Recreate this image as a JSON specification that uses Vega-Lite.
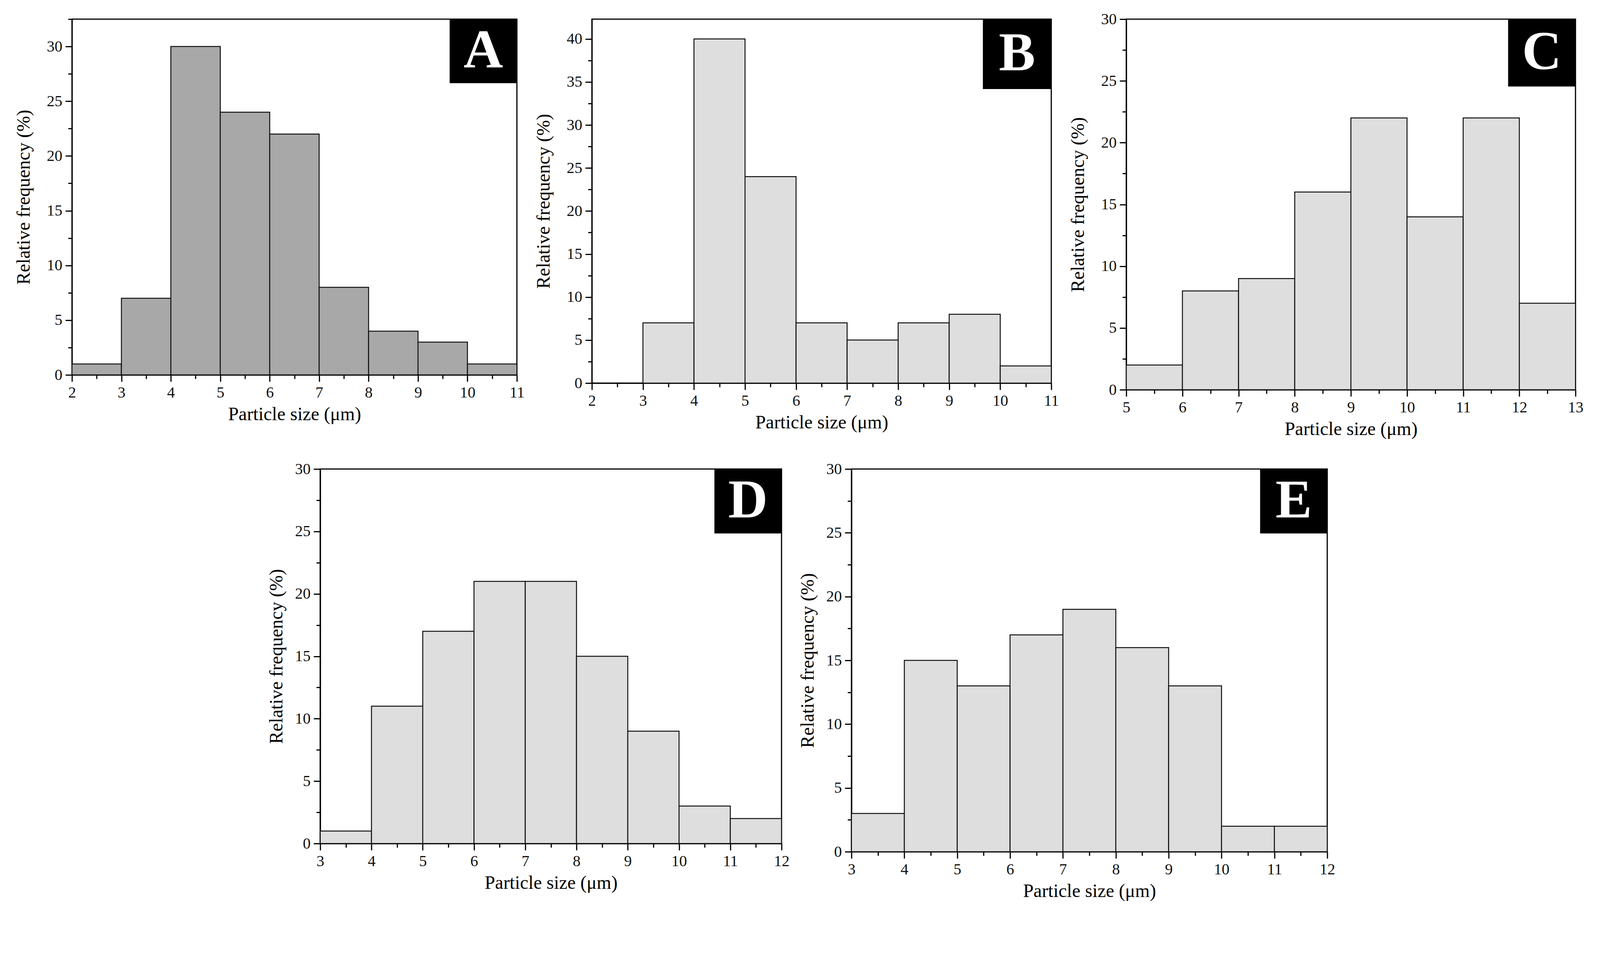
{
  "$schema": "https://vega.github.io/schema/vega-lite/v6.json",
  "background": "white",
  "padding": {"left": 35, "top": 27, "right": 24, "bottom": 47},
  "datasets": {
    "A": [{"start":2,"end":3,"freq":1},{"start":3,"end":4,"freq":7},{"start":4,"end":5,"freq":30},{"start":5,"end":6,"freq":24},{"start":6,"end":7,"freq":22},{"start":7,"end":8,"freq":8},{"start":8,"end":9,"freq":4},{"start":9,"end":10,"freq":3},{"start":10,"end":11,"freq":1}],
    "B": [{"start":3,"end":4,"freq":7},{"start":4,"end":5,"freq":40},{"start":5,"end":6,"freq":24},{"start":6,"end":7,"freq":7},{"start":7,"end":8,"freq":5},{"start":8,"end":9,"freq":7},{"start":9,"end":10,"freq":8},{"start":10,"end":11,"freq":2}],
    "C": [{"start":5,"end":6,"freq":2},{"start":6,"end":7,"freq":8},{"start":7,"end":8,"freq":9},{"start":8,"end":9,"freq":16},{"start":9,"end":10,"freq":22},{"start":10,"end":11,"freq":14},{"start":11,"end":12,"freq":22},{"start":12,"end":13,"freq":7}],
    "D": [{"start":3,"end":4,"freq":1},{"start":4,"end":5,"freq":11},{"start":5,"end":6,"freq":17},{"start":6,"end":7,"freq":21},{"start":7,"end":8,"freq":21},{"start":8,"end":9,"freq":15},{"start":9,"end":10,"freq":9},{"start":10,"end":11,"freq":3},{"start":11,"end":12,"freq":2}],
    "E": [{"start":3,"end":4,"freq":3},{"start":4,"end":5,"freq":15},{"start":5,"end":6,"freq":13},{"start":6,"end":7,"freq":17},{"start":7,"end":8,"freq":19},{"start":8,"end":9,"freq":16},{"start":9,"end":10,"freq":13},{"start":10,"end":11,"freq":2},{"start":11,"end":12,"freq":2}]
  },
  "config": {
    "font": "Liberation Serif",
    "view": {"stroke": "black", "strokeWidth": 3},
    "axis": {"domainColor": "black", "domainWidth": 3, "tickColor": "black", "tickWidth": 3, "labelFont": "Liberation Serif", "labelFontSize": 40, "labelColor": "#111", "titleFont": "Liberation Serif", "titleFontSize": 48, "titleFontWeight": "normal", "titleColor": "black", "grid": false, "labelOverlap": false, "labelFlush": false},
    "axisX": {"labelPadding": 8, "titlePadding": 12},
    "axisY": {"labelPadding": 8}
  },
  "spacing": 54,
  "center": true,
  "vconcat": [
    {
      "spacing": 22,
      "hconcat": [
        {
          "width": 1139, "height": 911,
          "layer": [
            {"data": {"name": "A"}, "mark": {"type": "rect", "fill": "#a8a8a8", "stroke": "#111", "strokeWidth": 2.5},
             "encoding": {
               "x": {"field": "start", "type": "quantitative", "scale": {"domain": [2, 11], "nice": false, "zero": false},
                     "axis": {"title": "Particle size (μm)", "values": [2,2.5,3,3.5,4,4.5,5,5.5,6,6.5,7,7.5,8,8.5,9,9.5,10,10.5,11], "labelExpr": "datum.value % 1 === 0 ? format(datum.value, 'd') : ''", "tickSize": {"condition": {"test": "datum.value % 1 === 0", "value": 17}, "value": 10}}},
               "x2": {"field": "end"},
               "y": {"field": "freq", "type": "quantitative", "scale": {"domain": [0, 32.5], "nice": false},
                     "axis": {"title": "Relative frequency (%)", "titlePadding": 34, "values": [0,2.5,5,7.5,10,12.5,15,17.5,20,22.5,25,27.5,30,32.5], "labelExpr": "datum.value % 5 === 0 ? format(datum.value, 'd') : ''", "tickSize": {"condition": {"test": "datum.value % 5 === 0", "value": 17}, "value": 10}}},
               "y2": {"datum": 0}
             }},
            {"data": {"values": [{"label": "A"}]}, "mark": {"type": "rect", "fill": "black"},
             "encoding": {"x": {"datum": 9.64, "type": "quantitative"}, "x2": {"datum": 11}, "y": {"datum": 32.5, "type": "quantitative"}, "y2": {"datum": 26.65}}},
            {"data": {"values": [{"label": "A"}]}, "mark": {"type": "text", "color": "white", "font": "Liberation Serif", "fontWeight": "bold", "fontSize": 140, "align": "center", "baseline": "middle"},
             "encoding": {"x": {"datum": 10.32, "type": "quantitative"}, "y": {"datum": 29.58, "type": "quantitative"}, "text": {"field": "label"}}}
          ]
        },
        {
          "width": 1176, "height": 932,
          "layer": [
            {"data": {"name": "B"}, "mark": {"type": "rect", "fill": "#dedede", "stroke": "#111", "strokeWidth": 2.5},
             "encoding": {
               "x": {"field": "start", "type": "quantitative", "scale": {"domain": [2, 11], "nice": false, "zero": false},
                     "axis": {"title": "Particle size (μm)", "values": [2,2.5,3,3.5,4,4.5,5,5.5,6,6.5,7,7.5,8,8.5,9,9.5,10,10.5,11], "labelExpr": "datum.value % 1 === 0 ? format(datum.value, 'd') : ''", "tickSize": {"condition": {"test": "datum.value % 1 === 0", "value": 17}, "value": 10}}},
               "x2": {"field": "end"},
               "y": {"field": "freq", "type": "quantitative", "scale": {"domain": [0, 42.3], "nice": false},
                     "axis": {"title": "Relative frequency (%)", "titlePadding": 34, "values": [0,2.5,5,7.5,10,12.5,15,17.5,20,22.5,25,27.5,30,32.5,35,37.5,40], "labelExpr": "datum.value % 5 === 0 ? format(datum.value, 'd') : ''", "tickSize": {"condition": {"test": "datum.value % 5 === 0", "value": 17}, "value": 10}}},
               "y2": {"datum": 0}
             }},
            {"data": {"values": [{"label": "B"}]}, "mark": {"type": "rect", "fill": "black"},
             "encoding": {"x": {"datum": 9.66, "type": "quantitative"}, "x2": {"datum": 11}, "y": {"datum": 42.3, "type": "quantitative"}, "y2": {"datum": 34.18}}},
            {"data": {"values": [{"label": "B"}]}, "mark": {"type": "text", "color": "white", "font": "Liberation Serif", "fontWeight": "bold", "fontSize": 140, "align": "center", "baseline": "middle"},
             "encoding": {"x": {"datum": 10.33, "type": "quantitative"}, "y": {"datum": 38.24, "type": "quantitative"}, "text": {"field": "label"}}}
          ]
        },
        {
          "width": 1150, "height": 949,
          "layer": [
            {"data": {"name": "C"}, "mark": {"type": "rect", "fill": "#dedede", "stroke": "#111", "strokeWidth": 2.5},
             "encoding": {
               "x": {"field": "start", "type": "quantitative", "scale": {"domain": [5, 13], "nice": false, "zero": false},
                     "axis": {"title": "Particle size (μm)", "values": [5,5.5,6,6.5,7,7.5,8,8.5,9,9.5,10,10.5,11,11.5,12,12.5,13], "labelExpr": "datum.value % 1 === 0 ? format(datum.value, 'd') : ''", "tickSize": {"condition": {"test": "datum.value % 1 === 0", "value": 17}, "value": 10}}},
               "x2": {"field": "end"},
               "y": {"field": "freq", "type": "quantitative", "scale": {"domain": [0, 30], "nice": false},
                     "axis": {"title": "Relative frequency (%)", "titlePadding": 34, "values": [0,2.5,5,7.5,10,12.5,15,17.5,20,22.5,25,27.5,30], "labelExpr": "datum.value % 5 === 0 ? format(datum.value, 'd') : ''", "tickSize": {"condition": {"test": "datum.value % 5 === 0", "value": 17}, "value": 10}}},
               "y2": {"datum": 0}
             }},
            {"data": {"values": [{"label": "C"}]}, "mark": {"type": "rect", "fill": "black"},
             "encoding": {"x": {"datum": 11.8, "type": "quantitative"}, "x2": {"datum": 13}, "y": {"datum": 30, "type": "quantitative"}, "y2": {"datum": 24.55}}},
            {"data": {"values": [{"label": "C"}]}, "mark": {"type": "text", "color": "white", "font": "Liberation Serif", "fontWeight": "bold", "fontSize": 140, "align": "center", "baseline": "middle"},
             "encoding": {"x": {"datum": 12.4, "type": "quantitative"}, "y": {"datum": 27.27, "type": "quantitative"}, "text": {"field": "label"}}}
          ]
        }
      ]
    },
    {
      "spacing": 20,
      "hconcat": [
        {
          "width": 1181, "height": 959,
          "layer": [
            {"data": {"name": "D"}, "mark": {"type": "rect", "fill": "#dedede", "stroke": "#111", "strokeWidth": 2.5},
             "encoding": {
               "x": {"field": "start", "type": "quantitative", "scale": {"domain": [3, 12], "nice": false, "zero": false},
                     "axis": {"title": "Particle size (μm)", "values": [3,3.5,4,4.5,5,5.5,6,6.5,7,7.5,8,8.5,9,9.5,10,10.5,11,11.5,12], "labelExpr": "datum.value % 1 === 0 ? format(datum.value, 'd') : ''", "tickSize": {"condition": {"test": "datum.value % 1 === 0", "value": 17}, "value": 10}}},
               "x2": {"field": "end"},
               "y": {"field": "freq", "type": "quantitative", "scale": {"domain": [0, 30], "nice": false},
                     "axis": {"title": "Relative frequency (%)", "titlePadding": 22, "values": [0,2.5,5,7.5,10,12.5,15,17.5,20,22.5,25,27.5,30], "labelExpr": "datum.value % 5 === 0 ? format(datum.value, 'd') : ''", "tickSize": {"condition": {"test": "datum.value % 5 === 0", "value": 17}, "value": 10}}},
               "y2": {"datum": 0}
             }},
            {"data": {"values": [{"label": "D"}]}, "mark": {"type": "rect", "fill": "black"},
             "encoding": {"x": {"datum": 10.69, "type": "quantitative"}, "x2": {"datum": 12}, "y": {"datum": 30, "type": "quantitative"}, "y2": {"datum": 24.84}}},
            {"data": {"values": [{"label": "D"}]}, "mark": {"type": "text", "color": "white", "font": "Liberation Serif", "fontWeight": "bold", "fontSize": 140, "align": "center", "baseline": "middle"},
             "encoding": {"x": {"datum": 11.345, "type": "quantitative"}, "y": {"datum": 27.42, "type": "quantitative"}, "text": {"field": "label"}}}
          ]
        },
        {
          "width": 1218, "height": 980,
          "layer": [
            {"data": {"name": "E"}, "mark": {"type": "rect", "fill": "#dedede", "stroke": "#111", "strokeWidth": 2.5},
             "encoding": {
               "x": {"field": "start", "type": "quantitative", "scale": {"domain": [3, 12], "nice": false, "zero": false},
                     "axis": {"title": "Particle size (μm)", "values": [3,3.5,4,4.5,5,5.5,6,6.5,7,7.5,8,8.5,9,9.5,10,10.5,11,11.5,12], "labelExpr": "datum.value % 1 === 0 ? format(datum.value, 'd') : ''", "tickSize": {"condition": {"test": "datum.value % 1 === 0", "value": 17}, "value": 10}}},
               "x2": {"field": "end"},
               "y": {"field": "freq", "type": "quantitative", "scale": {"domain": [0, 30], "nice": false},
                     "axis": {"title": "Relative frequency (%)", "titlePadding": 22, "values": [0,2.5,5,7.5,10,12.5,15,17.5,20,22.5,25,27.5,30], "labelExpr": "datum.value % 5 === 0 ? format(datum.value, 'd') : ''", "tickSize": {"condition": {"test": "datum.value % 5 === 0", "value": 17}, "value": 10}}},
               "y2": {"datum": 0}
             }},
            {"data": {"values": [{"label": "E"}]}, "mark": {"type": "rect", "fill": "black"},
             "encoding": {"x": {"datum": 10.73, "type": "quantitative"}, "x2": {"datum": 12}, "y": {"datum": 30, "type": "quantitative"}, "y2": {"datum": 24.95}}},
            {"data": {"values": [{"label": "E"}]}, "mark": {"type": "text", "color": "white", "font": "Liberation Serif", "fontWeight": "bold", "fontSize": 140, "align": "center", "baseline": "middle"},
             "encoding": {"x": {"datum": 11.365, "type": "quantitative"}, "y": {"datum": 27.48, "type": "quantitative"}, "text": {"field": "label"}}}
          ]
        }
      ]
    }
  ]
}
